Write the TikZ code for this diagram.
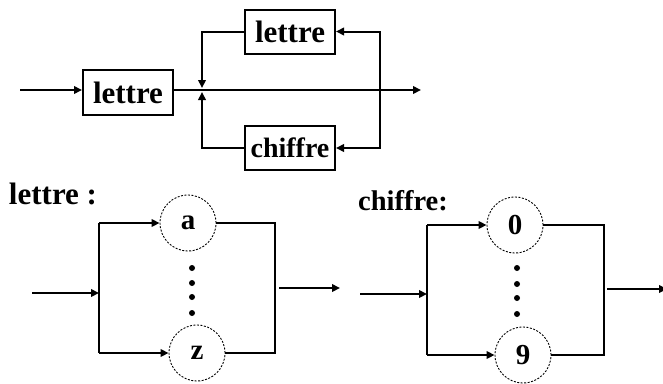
\documentclass[tikz,border=0pt]{standalone}
\usepackage{fontspec}
\setmainfont{Liberation Serif}
\usetikzlibrary{arrows.meta}
\begin{document}
\begin{tikzpicture}[x=1pt,y=-1pt,
  line width=2pt,
  tip/.style={-{Triangle[length=8pt,width=7.5pt]}},
  boxnode/.style={draw,minimum width=90pt,minimum height=44pt,inner sep=0pt,font=\fontsize{31}{33}\selectfont\bfseries},
  circ/.style={draw,circle,line width=0.9pt,dash pattern=on 2pt off 1.5pt,minimum size=56pt,inner sep=0pt,font=\fontsize{29}{31}\selectfont\bfseries},
  lbl/.style={inner sep=0pt,font=\fontsize{30}{32}\selectfont\bfseries},
  dotn/.style={circle,fill,minimum size=6pt,inner sep=0pt}]
\useasboundingbox (0,0) rectangle (663,383);
% ---------- top syntax diagram ----------
\coordinate (in0) at (20,90);
\node[boxnode,minimum height=45pt] (L1) at (128,92.5) {lettre};
\coordinate (J) at (202,90);
\coordinate (out0) at (421,90);
\node[boxnode] (L2) at (290,31.5) {lettre};
\node[boxnode,font=\fontsize{28}{30}\selectfont\bfseries] (C1) at (290,148) {chiffre};
\coordinate (R) at (380,90);
\coordinate (Jt) at (202,88);
\coordinate (Jb) at (202,92);
\draw[tip] (in0) -- (in0 -| L1.west);
\draw (J -| L1.east) -- (J);
\draw[tip] (J) -- (out0);
\draw[tip] (R) |- (L2.east);
\draw[tip] (R) |- (C1.east);
\draw[tip] (L2.west) -| (Jt);
\draw[tip] (C1.west) -| (Jb);
% ---------- lettre ----------
\node[lbl,font=\fontsize{31}{33}\selectfont\bfseries] (tl) at (53,194) {lettre :};
\node[circ] (ca) at (188,223) {a};
\node[circ] (cz) at (197,353) {z};
\node[dotn] (d1) at (192,268) {};
\node[dotn] (d2) at (192,283) {};
\node[dotn] (d3) at (192,297) {};
\node[dotn] (d4) at (192,313) {};
\coordinate (lin) at (32,293);
\coordinate (lv) at (99,293);
\coordinate (lvt) at (99,223);
\coordinate (lvb) at (99,353);
\coordinate (rvt) at (275,223);
\coordinate (rvb) at (275,353);
\coordinate (lo1) at (279,288);
\coordinate (lo2) at (340,288);
\draw[tip] (lin) -- (lv);
\draw (lvt) -- (lvb);
\draw[tip] (lvt) -- (ca.west);
\draw[tip] (lvb) -- (cz.west);
\draw (ca.east) -- (rvt) -- (rvb) -- (cz.east);
\draw[tip] (lo1) -- (lo2);
% ---------- chiffre ----------
\node[lbl,font=\fontsize{28.5}{30}\selectfont\bfseries] (tc) at (403,201) {chiffre:};
\node[circ] (c0) at (515,225) {0};
\node[circ] (c9) at (523,355) {9};
\node[dotn] (e1) at (517,268) {};
\node[dotn] (e2) at (517,284) {};
\node[dotn] (e3) at (517,298) {};
\node[dotn] (e4) at (517,314) {};
\coordinate (cin) at (360,294);
\coordinate (cv) at (427,294);
\coordinate (cvt) at (427,225);
\coordinate (cvb) at (427,355);
\coordinate (cvrt) at (604,225);
\coordinate (cvrb) at (604,355);
\coordinate (co1) at (607,289);
\coordinate (co2) at (667,289);
\draw[tip] (cin) -- (cv);
\draw (cvt) -- (cvb);
\draw[tip] (cvt) -- (c0.west);
\draw[tip] (cvb) -- (c9.west);
\draw (c0.east) -- (cvrt) -- (cvrb) -- (c9.east);
\draw[tip] (co1) -- (co2);
\end{tikzpicture}
\end{document}
